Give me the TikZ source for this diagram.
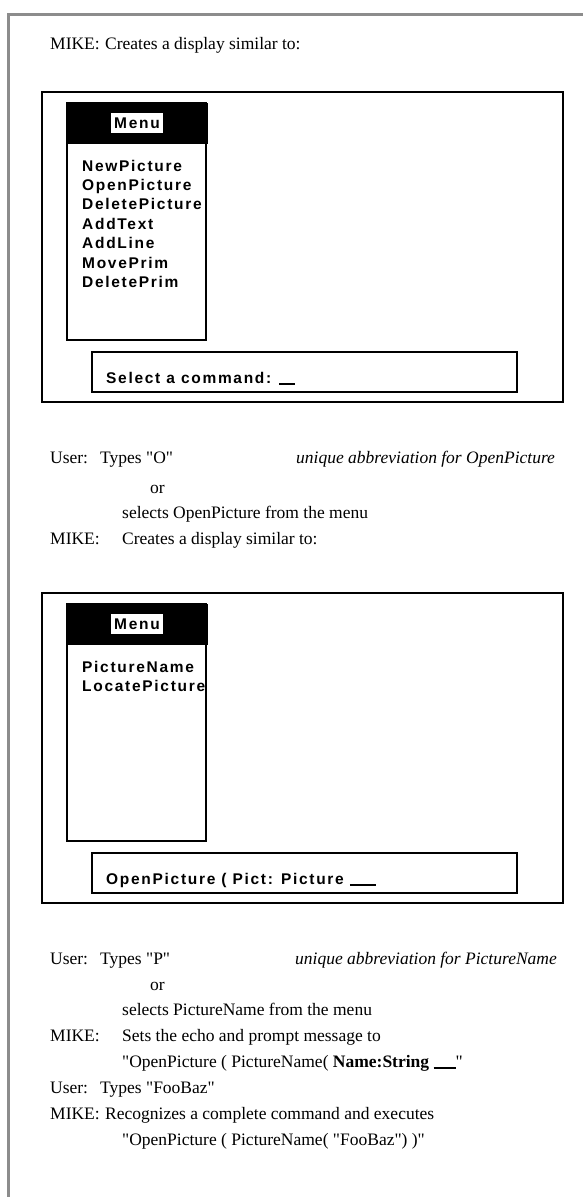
\documentclass[tikz,border=0pt]{standalone}
\usepackage{fontspec}
\setmainfont[Ligatures=TeXOff]{Liberation Serif}
\newfontfamily\menufont[LetterSpace=11]{Liberation Sans}
\tikzset{
	screen/.style={draw, line width=1.4pt},
	menubox/.style={draw, line width=1.8pt},
	cmdbox/.style={draw, line width=1.6pt},
	txt/.style={anchor=base west, inner sep=0pt, font=\fontsize{17.5}{20}\selectfont},
	itxt/.style={txt, font=\fontsize{17.5}{20}\selectfont\itshape},
	item/.style={anchor=base west, inner sep=0pt, font=\fontsize{15.5}{17}\menufont\bfseries},
	menulabel/.style={fill=white, inner sep=0pt, minimum width=52pt, minimum height=20pt, font=\fontsize{15.5}{17}\menufont\bfseries},
}
\newcommand{\blank}[1]{\rule[-1.5pt]{#1}{1.2pt}}

\begin{document}
\begin{tikzpicture}[x=1pt, y=-1pt]
			%%%%% START %%%%%
			\useasboundingbox (0, 0) rectangle (583, 1197);
			
			\draw[line width=3pt, color=black!45] (8, 1197) -- (8, 14) -- (583, 14);
			
			\node[txt] (mike1) at (50, 49) {MIKE:};
			\node[txt] (creates1) at (105, 49) {Creates a display similar to:};
			
			% first screen
			\draw[screen] (42, 92) rectangle (563, 402);
			\draw[menubox] (67, 103) rectangle (206, 340);
			\draw[fill=black] (67, 103) rectangle (207, 143);
			\node[menulabel] (menu1) at (137, 123) {Menu};
			\node[item] (newpic) at (82, 171) {NewPicture};
			\node[item] (openpic) at (82, 190) {OpenPicture};
			\node[item] (delpic) at (82, 209) {DeletePicture};
			\node[item] (addtext) at (82, 229) {AddText};
			\node[item] (addline) at (82, 248) {AddLine};
			\node[item] (moveprim) at (82, 268) {MovePrim};
			\node[item] (delprim) at (82, 287) {DeletePrim};
			\draw[cmdbox] (92, 352) rectangle (517, 392);
			\node[item] (prompt1) at (106, 383) {Select a command: \blank{16pt}};
			
			\node[txt] (user1) at (50, 463) {User:};
			\node[txt] (types1) at (100, 463) {Types "O"};
			\node[itxt] (abbr1) at (296, 463) {unique abbreviation for OpenPicture};
			\node[txt] (or1) at (150, 493) {or};
			\node[txt] (sel1) at (122, 518) {selects OpenPicture from the menu};
			\node[txt] (mike2) at (50, 544) {MIKE:};
			\node[txt] (creates2) at (122, 544) {Creates a display similar to:};
			
			% second screen
			\draw[screen] (42, 593) rectangle (563, 903);
			\draw[menubox] (67, 604) rectangle (206, 841);
			\draw[fill=black] (67, 604) rectangle (207, 644);
			\node[menulabel] (menu2) at (137, 624) {Menu};
			\node[item] (picname) at (82, 672) {PictureName};
			\node[item] (locpic) at (82, 691) {LocatePicture};
			\draw[cmdbox] (92, 853) rectangle (517, 893);
			\node[item] (prompt2) at (106, 884) {OpenPicture ( Pict: Picture \blank{26pt}};
			
			\node[txt] (user2) at (50, 964) {User:};
			\node[txt] (types2) at (100, 964) {Types "P"};
			\node[itxt] (abbr2) at (295, 964) {unique abbreviation for PictureName};
			\node[txt] (or2) at (150, 990) {or};
			\node[txt] (sel2) at (122, 1015) {selects PictureName from the menu};
			\node[txt] (mike3) at (50, 1041) {MIKE:};
			\node[txt] (sets) at (122, 1041) {Sets the echo and prompt message to};
			\node[txt] (echo) at (122, 1067) {"OpenPicture ( PictureName( \textbf{Name:String} \blank{22pt}"};
			\node[txt] (user3) at (50, 1093) {User:};
			\node[txt] (types3) at (100, 1093) {Types "FooBaz"};
			\node[txt] (mike4) at (50, 1119) {MIKE:};
			\node[txt] (recog) at (105, 1119) {Recognizes a complete command and executes};
			\node[txt] (exec) at (122, 1145) {"OpenPicture ( PictureName( "FooBaz") )"};
			
			%%%%% END %%%%%
\end{tikzpicture}
\end{document}
